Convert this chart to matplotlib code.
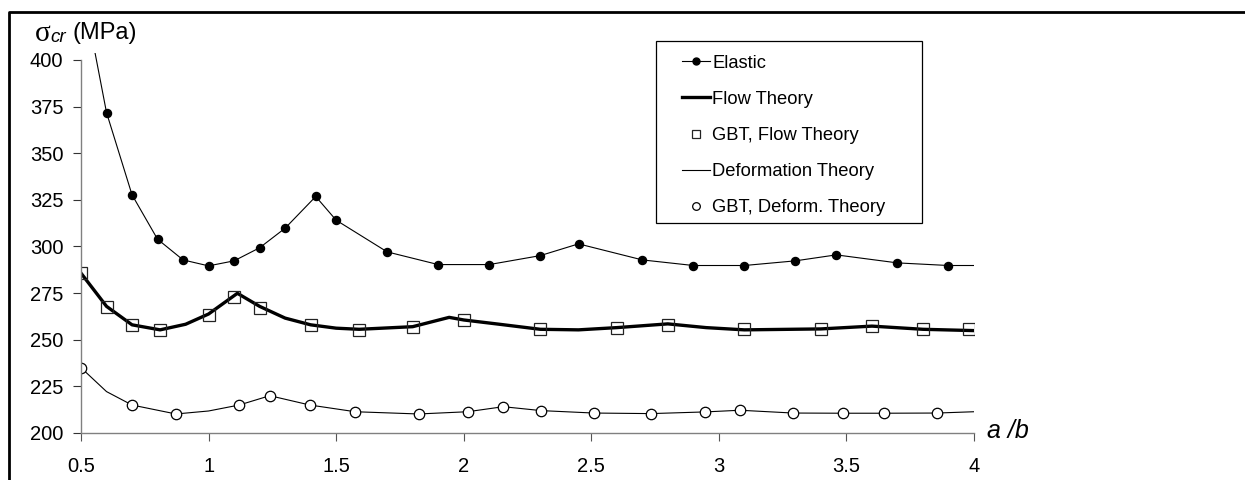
import matplotlib
matplotlib.use("Agg")
import matplotlib.pyplot as plt
from matplotlib.lines import Line2D
from matplotlib.patches import Rectangle

plt.rcParams['font.family'] = ['Liberation Sans', 'DejaVu Sans']

# Elastic (line goes through the dots, with start/end beyond the first/last dot)
elastic_x = [0.5, 0.6, 0.7, 0.8, 0.9, 1.0, 1.1, 1.2, 1.3, 1.42, 1.5, 1.7, 1.9, 2.1,
             2.3, 2.45, 2.7, 2.9, 3.1, 3.3, 3.46, 3.7, 3.9, 4.0]
elastic_y = [443, 371.8, 327.7, 303.9, 292.8, 289.6, 292.3, 299.3, 309.8, 326.8, 314.1,
             297.1, 290.3, 290.3, 295.1, 301.4, 292.8, 289.8, 289.8, 292.3, 295.5,
             291.2, 289.8, 289.8]

# Flow theory (thick line)
flow_x = [0.5, 0.6, 0.7, 0.81, 0.91, 1.0, 1.113, 1.2, 1.3, 1.4, 1.5, 1.59, 1.8,
          1.943, 2.0, 2.14, 2.3, 2.45, 2.6, 2.8, 2.95, 3.1, 3.4, 3.6, 3.8, 4.0]
flow_y = [285.7, 267.9, 258.0, 255.3, 258.3, 263.8, 274.9, 267.9, 261.6, 258.0,
          256.2, 255.6, 257.0, 262.0, 260.6, 258.3, 255.6, 255.3, 256.5, 258.5, 256.5,
          255.3, 255.8, 257.3, 255.6, 254.9]

# GBT, flow theory (squares)
gbt_flow_x = [0.5, 0.6, 0.7, 0.81, 1.0, 1.1, 1.2, 1.4, 1.59, 1.8, 2.0, 2.3, 2.6, 2.8,
              3.1, 3.4, 3.6, 3.8, 3.98]
gbt_flow_y = [285.7, 267.4, 258.1, 255.3, 263.3, 272.8, 267.2, 258.1, 255.3, 257.0,
              260.8, 255.6, 256.5, 258.1, 255.6, 256.0, 257.4, 255.8, 255.6]

# Deformation theory (thin line)
deform_x = [0.5, 0.6, 0.7, 0.872, 1.0, 1.12, 1.24, 1.397, 1.575, 1.823, 2.015, 2.155,
            2.304, 2.51, 2.734, 2.946, 3.083, 3.291, 3.485, 3.647, 3.855, 4.0]
deform_y = [235.0, 222.2, 215.0, 210.2, 211.8, 215.0, 220.0, 215.0, 211.4, 210.2, 211.4,
            214.1, 212.0, 210.7, 210.4, 211.3, 212.2, 210.7, 210.6, 210.6, 210.7, 211.4]

# GBT, deformation theory (circles)
gbt_def_x = [0.5, 0.7, 0.872, 1.12, 1.24, 1.397, 1.575, 1.823, 2.015, 2.155, 2.304, 2.51,
             2.734, 2.946, 3.083, 3.291, 3.485, 3.647, 3.855]
gbt_def_y = [235.0, 215.0, 210.2, 215.0, 220.0, 215.0, 211.4, 210.2, 211.4, 214.1, 212.0,
             210.7, 210.4, 211.3, 212.2, 210.7, 210.6, 210.6, 210.7]

x_ticks = [0.5, 1, 1.5, 2, 2.5, 3, 3.5, 4]
x_tick_labels = ["0.5", "1", "1.5", "2", "2.5", "3", "3.5", "4"]
y_ticks = [200, 225, 250, 275, 300, 325, 350, 375, 400]

fig = plt.figure(figsize=(12.45, 4.8), dpi=100)
ax = fig.add_axes([81 / 1245, 1 - 433 / 480, (974 - 81) / 1245, (433 - 52.5) / 480])

ax.plot(elastic_x, elastic_y, color="black", lw=0.8, marker="o", ms=5.8,
        markevery=slice(1, -1), label="Elastic")
ax.plot(flow_x, flow_y, color="black", lw=2.4, label="Flow Theory")
ax.plot(gbt_flow_x, gbt_flow_y, ls="none", marker="s", ms=8, mfc="none",
        mec="#222222", mew=0.9, label="GBT, Flow Theory")
ax.plot(deform_x, deform_y, color="black", lw=0.8, label="Deformation Theory")
ax.plot(gbt_def_x, gbt_def_y, ls="none", marker="o", ms=7.5, mfc="white",
        mec="black", mew=0.9, label="GBT, Deform. Theory")

ax.set_xlim(0.5, 4)
ax.set_ylim(200, 404)
ax.set_xticks(x_ticks)
ax.set_xticklabels(x_tick_labels)
ax.set_yticks(y_ticks)

for s in ["top", "right"]:
    ax.spines[s].set_visible(False)
for s in ["left", "bottom"]:
    ax.spines[s].set_color("#808080")
    ax.spines[s].set_linewidth(1.0)
ax.spines["left"].set_bounds(200, 400)

ax.tick_params(axis="x", direction="out", length=5.5, width=0.8, color="#555555",
               labelsize=14.5, pad=12)
ax.tick_params(axis="y", direction="out", length=5.8, width=0.8, color="#333333",
               labelsize=14.5, pad=7)

# legend (frame drawn separately)
leg = ax.legend(loc="upper left", bbox_to_anchor=(682 / 1245, 1 - 54.5 / 480),
                bbox_transform=fig.transFigure, frameon=False, fontsize=13.2,
                borderpad=0, borderaxespad=0, handlelength=1.5, handletextpad=0.15,
                labelspacing=1.05)
sizes = [5, None, 5.5, None, 5.5]
for h, s in zip(leg.legend_handles, sizes):
    if s is not None:
        h.set_markersize(s)
fig.patches.append(Rectangle((656 / 1245, 1 - 223 / 480), (922 - 656) / 1245,
                             (223 - 41) / 480, transform=fig.transFigure,
                             fill=False, edgecolor="black", lw=0.9))

# axis titles
fig.text(35 / 1245, 1 - 41 / 480, "σ", fontsize=21, family="Liberation Serif",
         ha="left", va="baseline")
fig.text(50 / 1245, 1 - 42.5 / 480, "cr", fontsize=13.5, style="italic",
         ha="left", va="baseline")
fig.text(73 / 1245, 1 - 39.5 / 480, "(MPa)", fontsize=17, ha="left", va="baseline")
fig.text(987 / 1245, 1 - 438 / 480, "a /b", fontsize=18, style="italic",
         ha="left", va="baseline")

# figure border (top and left only)
fig.lines.append(Line2D([9 / 1245, 9 / 1245, 1.0], [0.0, 1 - 12 / 480, 1 - 12 / 480],
                        transform=fig.transFigure, color="black", lw=2.0))

fig.savefig("out.png", dpi=100)
